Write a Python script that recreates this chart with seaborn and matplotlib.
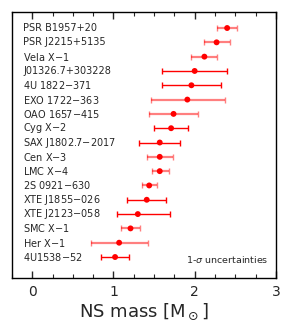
import numpy as np
import pandas as pd
import seaborn as sns
import matplotlib.pyplot as plt
from matplotlib.ticker import MultipleLocator

sources = ["PSR B1957+20", "PSR J2215+5135", "Vela X$-$1", "J01326.7+303228",
           "4U 1822$-$371", "EXO 1722$-$363", "OAO 1657$-$415", "Cyg X$-$2",
           "SAX J1802.7$-$2017", "Cen X$-$3", "LMC X$-$4", "2S 0921$-$630",
           "XTE J1855$-$026", "XTE J2123$-$058", "SMC X$-$1", "Her X$-$1",
           "4U1538$-$52"]
mass = [2.40, 2.27, 2.12, 2.00, 1.96, 1.91, 1.74, 1.71, 1.57, 1.57, 1.57,
        1.44, 1.41, 1.30, 1.21, 1.07, 1.02]
err_lo = [0.13, 0.15, 0.16, 0.40, 0.36, 0.45, 0.30, 0.21, 0.25, 0.16, 0.10,
          0.09, 0.24, 0.26, 0.12, 0.35, 0.17]
err_hi = [0.12, 0.17, 0.16, 0.40, 0.36, 0.46, 0.30, 0.21, 0.25, 0.16, 0.12,
          0.10, 0.24, 0.40, 0.12, 0.36, 0.17]
light = [True, True, True, False, False, True, True, False, False, True, True,
         True, False, False, True, True, False]

df = pd.DataFrame({"source": sources, "mass": mass, "lo": err_lo, "hi": err_hi,
                   "light": light})
df["row"] = np.arange(len(df))

sns.set_style("ticks")
plt.rcParams['font.family'] = ['DejaVu Sans']
plt.rcParams['mathtext.fontset'] = 'dejavusans'

fig, ax = plt.subplots(figsize=(2.91, 3.33), dpi=100)
fig.subplots_adjust(left=0.041, right=0.948, bottom=0.165, top=0.964)

# two groups of sources drawn with different error bar styles
for is_light, grp in df.groupby("light"):
    ax.errorbar(grp["mass"], grp["row"], xerr=[grp["lo"], grp["hi"]], fmt="none",
                ecolor="red", elinewidth=1.6 if is_light else 1.0,
                capsize=2.5, capthick=1.0, alpha=0.5 if is_light else 1.0)

sns.scatterplot(data=df, x="mass", y="row", color="red", s=18, edgecolor="none",
                ax=ax, zorder=3, legend=False)

for _, r in df.iterrows():
    ax.text(0.042, r["row"], r["source"], transform=ax.get_yaxis_transform(),
            ha="left", va="center", fontsize=7)

ax.text(0.973, 0.071, r"1-$\sigma$ uncertainties", transform=ax.transAxes,
        ha="right", va="center", fontsize=6.8)

ax.set_xlim(-0.25, 3)
ax.set_ylim(len(df) - 1 + 1.47, -1.12)
ax.xaxis.set_major_locator(MultipleLocator(1))
ax.xaxis.set_minor_locator(MultipleLocator(0.25))
ax.tick_params(axis="x", which="both", direction="in", top=True, bottom=True,
               labelsize=10, pad=5)
ax.tick_params(axis="x", which="major", length=5, width=1)
ax.tick_params(axis="x", which="minor", length=3, width=0.8)
ax.set_yticks([])
ax.set_ylabel("")
ax.set_xlabel(r"NS mass [M$_\odot$]", fontsize=13, labelpad=2)
for s in ax.spines.values():
    s.set_visible(True)
    s.set_linewidth(1)
    s.set_color("black")

plt.savefig("out.png", dpi=100)
